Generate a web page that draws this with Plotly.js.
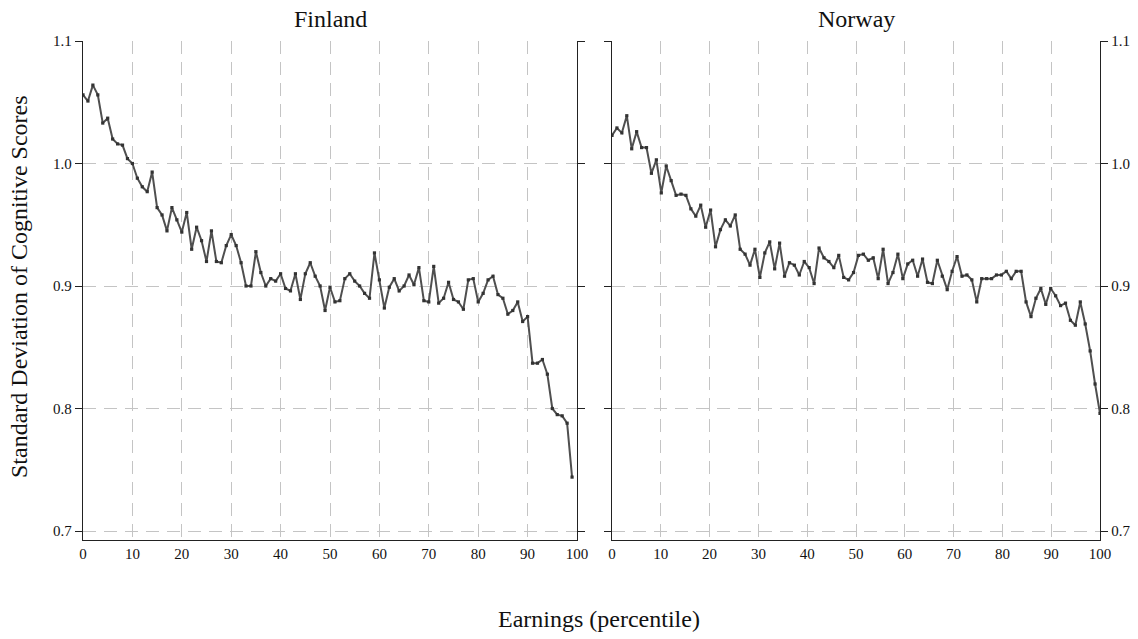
<!DOCTYPE html>
<html>
<head>
<meta charset="utf-8">
<script src="https://cdn.plot.ly/plotly-3.0.1.min.js"></script>
<style>
  html, body { margin: 0; padding: 0; background: #ffffff; }
  #chart { width: 1138px; height: 639px; }
</style>
</head>
<body>
<div id="chart"></div>
<script>
// ---- Data ----
const panelNames = ["Finland", "Norway"];

// percentile rank index of each point (100 points per country)
const pointIndex = [
  0,1,2,3,4,5,6,7,8,9,10,11,12,13,14,15,16,17,18,19,
  20,21,22,23,24,25,26,27,28,29,30,31,32,33,34,35,36,37,38,39,
  40,41,42,43,44,45,46,47,48,49,50,51,52,53,54,55,56,57,58,59,
  60,61,62,63,64,65,66,67,68,69,70,71,72,73,74,75,76,77,78,79,
  80,81,82,83,84,85,86,87,88,89,90,91,92,93,94,95,96,97,98,99
];

const finlandSD = [
  1.056,1.051,1.064,1.056,1.033,1.037,1.020,1.016,1.015,1.004,
  1.000,0.988,0.981,0.977,0.993,0.964,0.958,0.945,0.964,0.954,
  0.944,0.960,0.930,0.948,0.937,0.920,0.945,0.920,0.919,0.933,
  0.942,0.933,0.919,0.900,0.900,0.928,0.911,0.900,0.906,0.904,
  0.910,0.898,0.896,0.910,0.889,0.910,0.919,0.908,0.900,0.880,
  0.899,0.887,0.888,0.906,0.910,0.904,0.900,0.894,0.890,0.927,
  0.905,0.882,0.899,0.906,0.896,0.900,0.909,0.901,0.915,0.888,
  0.887,0.916,0.886,0.890,0.903,0.889,0.887,0.881,0.905,0.906,
  0.887,0.894,0.905,0.908,0.893,0.890,0.877,0.880,0.887,0.871,
  0.875,0.837,0.837,0.840,0.828,0.800,0.795,0.794,0.788,0.744
];

const norwaySD = [
  1.023,1.029,1.025,1.039,1.012,1.026,1.013,1.013,0.992,1.003,
  0.976,0.998,0.986,0.974,0.975,0.974,0.963,0.957,0.966,0.948,
  0.962,0.932,0.946,0.954,0.949,0.958,0.930,0.926,0.917,0.930,
  0.907,0.927,0.936,0.914,0.935,0.908,0.919,0.917,0.909,0.920,
  0.915,0.902,0.931,0.923,0.920,0.915,0.925,0.907,0.905,0.911,
  0.925,0.926,0.921,0.923,0.906,0.930,0.902,0.911,0.926,0.906,
  0.918,0.921,0.908,0.922,0.903,0.902,0.921,0.908,0.897,0.912,
  0.924,0.908,0.909,0.905,0.887,0.906,0.906,0.906,0.909,0.909,
  0.912,0.906,0.912,0.912,0.887,0.875,0.890,0.898,0.885,0.898,
  0.892,0.884,0.886,0.872,0.868,0.887,0.869,0.847,0.820,0.796
];

const xTicks = [0,10,20,30,40,50,60,70,80,90,100];
const yTicks = [0.7,0.8,0.9,1.0,1.1];
const xTitle = "Earnings (percentile)";
const yTitle = "Standard Deviation of Cognitive Scores";

// ---- Positions ----
const W = 1138, H = 639;
const px = v => v / W;
const py = v => 1 - v / H;

// Finland points sit on whole percentiles; Norway points span 0..100
const xFinland = pointIndex.slice();
const xNorway = pointIndex.map(i => i * 100 / (pointIndex.length - 1));

const serif = "'Liberation Serif', 'Times New Roman', Times, serif";
const lineStyle = { color: "#4f4f4f", width: 2 };
const markerStyle = { color: "#333333", size: 3.2, symbol: "square" };

const traces = [
  {
    x: xFinland, y: finlandSD, type: "scatter", mode: "lines+markers",
    line: lineStyle, marker: markerStyle, xaxis: "x", yaxis: "y",
    hoverinfo: "x+y", showlegend: false
  },
  {
    x: xNorway, y: norwaySD, type: "scatter", mode: "lines+markers",
    line: lineStyle, marker: markerStyle, xaxis: "x2", yaxis: "y2",
    hoverinfo: "x+y", showlegend: false
  }
];

const tickFont = { family: serif, size: 15, color: "#111111" };
const yRange = [0.69265, 1.1];
const gridCommon = {
  showgrid: true, gridcolor: "#c4c4c4", gridwidth: 1.3, griddash: "13px,8px",
  zeroline: false, showline: true, linecolor: "#222222", linewidth: 1.3
};

const xCommon = Object.assign({}, gridCommon, {
  range: [0, 100], tickmode: "array", tickvals: xTicks, ticktext: xTicks.map(String),
  ticks: "", mirror: false, tickfont: tickFont
});
const yCommon = Object.assign({}, gridCommon, {
  range: yRange, tickmode: "array", tickvals: yTicks, ticktext: yTicks.map(v => v.toFixed(1)),
  ticks: "outside", ticklen: 7, tickwidth: 1.2, tickcolor: "#222222",
  mirror: "ticks", tickfont: tickFont
});

const layout = {
  width: W, height: H,
  font: { family: serif, size: 15, color: "#111111" },
  margin: { l: 0, r: 0, t: 0, b: 0, pad: 0 },
  paper_bgcolor: "#ffffff", plot_bgcolor: "#ffffff",
  showlegend: false,
  xaxis: Object.assign({}, xCommon, { domain: [px(83), px(577)], anchor: "y" }),
  yaxis: Object.assign({}, yCommon, { domain: [py(540), py(41)], anchor: "x", side: "left" }),
  xaxis2: Object.assign({}, xCommon, { domain: [px(612), px(1100)], anchor: "y2" }),
  yaxis2: Object.assign({}, yCommon, { domain: [py(540), py(41)], anchor: "x2", side: "right" }),
  annotations: [
    { text: panelNames[0], xref: "paper", yref: "paper", x: px(330), y: py(19),
      xanchor: "center", yanchor: "middle", showarrow: false,
      font: { family: serif, size: 24, color: "#111111" } },
    { text: panelNames[1], xref: "paper", yref: "paper", x: px(856), y: py(19),
      xanchor: "center", yanchor: "middle", showarrow: false,
      font: { family: serif, size: 24, color: "#111111" } },
    { text: xTitle, xref: "paper", yref: "paper", x: px(599), y: py(619),
      xanchor: "center", yanchor: "middle", showarrow: false,
      font: { family: serif, size: 24, color: "#111111" } },
    { text: yTitle, xref: "paper", yref: "paper", x: px(19), y: py(287),
      xanchor: "center", yanchor: "middle", showarrow: false, textangle: -90,
      font: { family: serif, size: 24, color: "#111111" } }
  ]
};

Plotly.newPlot("chart", traces, layout, { displayModeBar: false, responsive: false });
</script>
</body>
</html>
